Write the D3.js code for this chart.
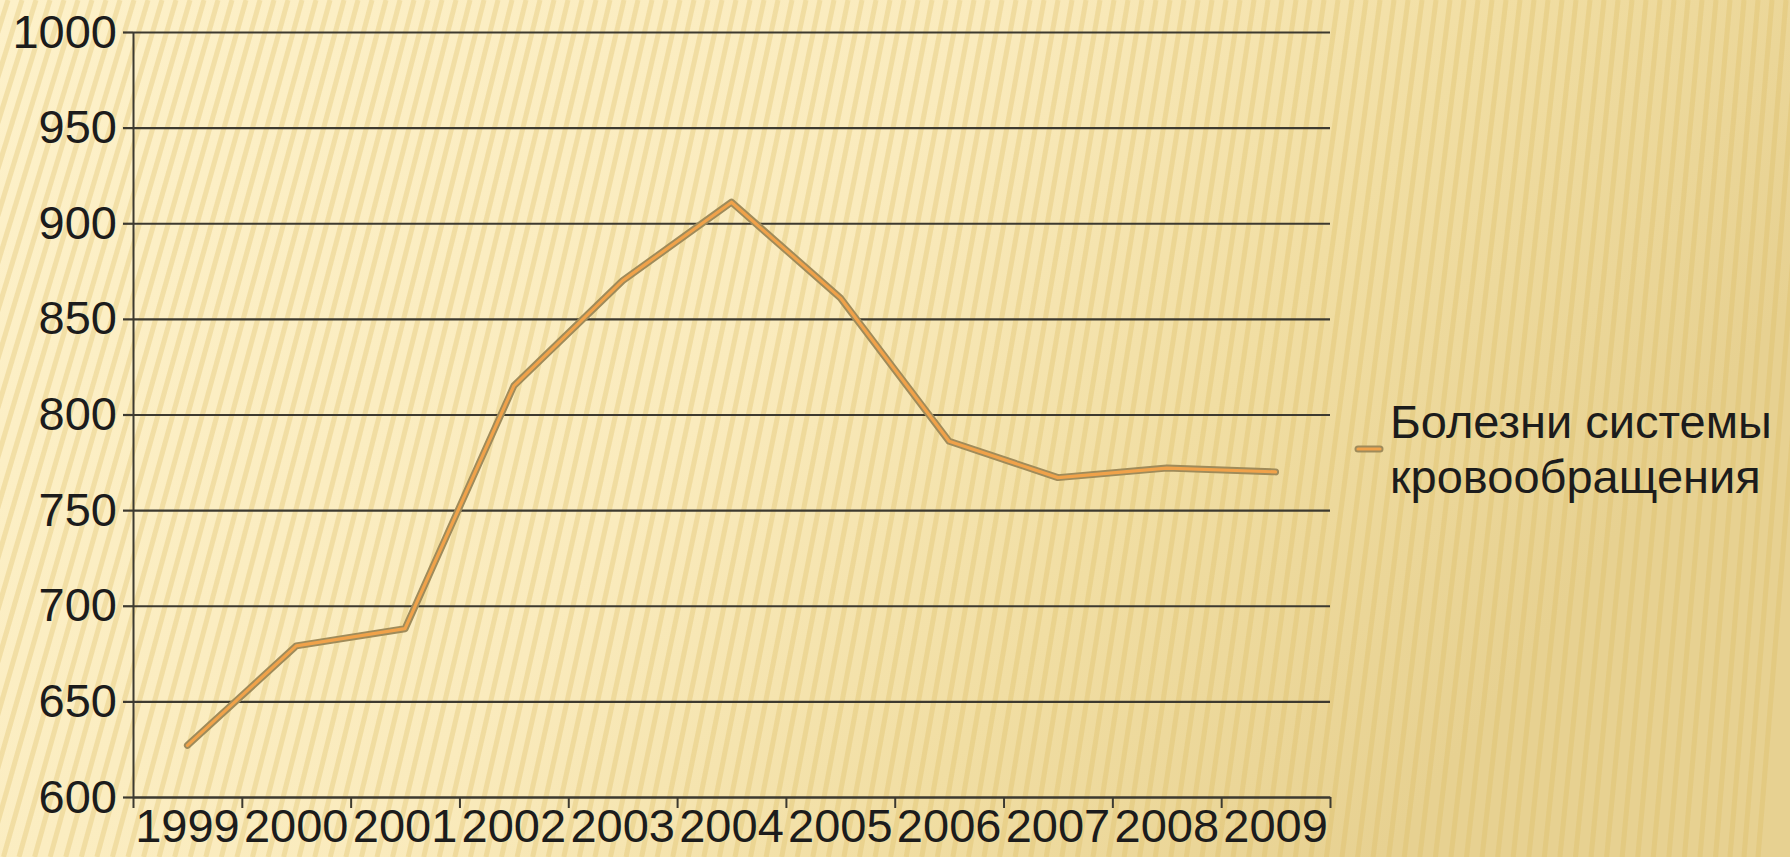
<!DOCTYPE html>
<html>
<head>
<meta charset="utf-8">
<script src="https://cdn.jsdelivr.net/npm/d3@7"></script>
<style>
  html, body { margin: 0; padding: 0; overflow: hidden; }
  body { width: 1790px; height: 857px; }
  text { font-family: "Liberation Sans", Arial, sans-serif; }
</style>
</head>
<body>
<div id="chart"></div>
<script>
// Years on the x axis
const years = ['1999', '2000', '2001', '2002', '2003', '2004', '2005', '2006', '2007', '2008', '2009'];
// Values
const values = [627, 679, 688, 815, 870, 911, 861, 786, 767, 772, 770];
const yTicks = [600, 650, 700, 750, 800, 850, 900, 950, 1000];
const seriesName = ['Болезни системы', 'кровообращения'];

const W = 1790, H = 857;
const margin = { top: 32, right: 460, bottom: 60, left: 133 };
const width = W - margin.left - margin.right;
const height = H - margin.top - margin.bottom;
const fontFamily = '"Liberation Sans", Arial, sans-serif';

const svg = d3.select('#chart').append('svg')
    .attr('width', W)
    .attr('height', H);

// Background: pale yellow with soft slanted stripes
const defs = svg.append('defs');
const bg = defs.append('linearGradient')
    .attr('id', 'bg')
    .attr('x1', '0').attr('y1', '0')
    .attr('x2', '1').attr('y2', '0.35');
bg.append('stop').attr('offset', '0').attr('stop-color', '#fdf1c9');
bg.append('stop').attr('offset', '0.5').attr('stop-color', '#faebbd');
bg.append('stop').attr('offset', '0.75').attr('stop-color', '#f1dea3');
bg.append('stop').attr('offset', '1').attr('stop-color', '#e7d191');

svg.append('rect')
    .attr('width', W)
    .attr('height', H)
    .attr('fill', 'url(#bg)');

const stripes = svg.append('g').attr('class', 'stripes');
d3.range(-300, W + 40, 14).forEach(xt => {
    const slant = 200 * Math.max(0, 1 - xt / W) + 70;
    stripes.append('line')
        .attr('x1', xt).attr('y1', 0)
        .attr('x2', xt - slant).attr('y2', H)
        .attr('stroke', '#d9b95e')
        .attr('stroke-opacity', 0.3)
        .attr('stroke-width', 5);
});

const g = svg.append('g')
    .attr('transform', `translate(${margin.left},${margin.top})`);

// Scales
const x = d3.scaleBand()
    .domain(years)
    .range([0, width])
    .padding(0);

const y = d3.scaleLinear()
    .domain([600, 1000])
    .range([height, 0]);

// Gridlines
g.append('g')
    .attr('class', 'grid')
    .call(d3.axisLeft(y).tickValues(yTicks).tickSize(-width).tickFormat(''))
    .call(s => s.select('.domain').remove())
    .selectAll('line')
    .attr('stroke', '#3d3a30')
    .attr('stroke-width', 2.2);

// Y axis with labels
const yAxis = g.append('g')
    .call(d3.axisLeft(y).tickValues(yTicks).tickFormat(d3.format('d'))
        .tickSize(10).tickSizeOuter(0).tickPadding(6));
yAxis.select('.domain').attr('stroke', '#3d3a30').attr('stroke-width', 2);
yAxis.selectAll('line').attr('stroke', '#3d3a30').attr('stroke-width', 2.2);
yAxis.selectAll('text')
    .attr('font-size', 47)
    .attr('fill', '#1c1c1c')
    .attr('font-family', fontFamily);

// X axis: tick marks at band edges
const xEdges = d3.scaleLinear().domain([0, years.length]).range([0, width]);
const xTickAxis = g.append('g')
    .attr('transform', `translate(0,${height})`)
    .call(d3.axisBottom(xEdges).tickValues(d3.range(years.length + 1))
        .tickSize(11).tickSizeOuter(0).tickFormat(''));
xTickAxis.select('.domain').attr('stroke', '#3d3a30').attr('stroke-width', 2.2);
xTickAxis.selectAll('line').attr('stroke', '#3d3a30').attr('stroke-width', 2);

// X axis labels centred in bands
const xLabelAxis = g.append('g')
    .attr('transform', `translate(0,${height})`)
    .call(d3.axisBottom(x).tickSize(0).tickPadding(12));
xLabelAxis.select('.domain').remove();
xLabelAxis.selectAll('text')
    .attr('font-size', 47)
    .attr('fill', '#1c1c1c')
    .attr('font-family', fontFamily);

// Line: grey-brown outline with orange core
const line = d3.line()
    .x((d, i) => x(years[i]) + x.bandwidth() / 2)
    .y(d => y(d));

g.append('path')
    .datum(values)
    .attr('fill', 'none')
    .attr('stroke', '#9f8b5a')
    .attr('stroke-width', 7)
    .attr('stroke-linejoin', 'round')
    .attr('stroke-linecap', 'round')
    .attr('d', line);

g.append('path')
    .datum(values)
    .attr('fill', 'none')
    .attr('stroke', '#f0a24a')
    .attr('stroke-width', 3.2)
    .attr('stroke-linejoin', 'round')
    .attr('stroke-linecap', 'round')
    .attr('d', line);

// Legend
const legend = svg.append('g')
    .attr('transform', 'translate(1358,449)');

legend.append('line')
    .attr('x1', 0).attr('x2', 22)
    .attr('stroke', '#9f8b5a')
    .attr('stroke-width', 7)
    .attr('stroke-linecap', 'round');
legend.append('line')
    .attr('x1', 0).attr('x2', 22)
    .attr('stroke', '#f0a24a')
    .attr('stroke-width', 3.2)
    .attr('stroke-linecap', 'round');

legend.selectAll('text.lbl')
    .data(seriesName)
    .enter()
    .append('text')
    .attr('class', 'lbl')
    .attr('x', 32)
    .attr('y', (d, i) => -27 + i * 55)
    .attr('dy', '0.35em')
    .attr('font-size', 47)
    .attr('font-family', fontFamily)
    .attr('fill', '#1c1c1c')
    .text(d => d);
</script>
</body>
</html>
